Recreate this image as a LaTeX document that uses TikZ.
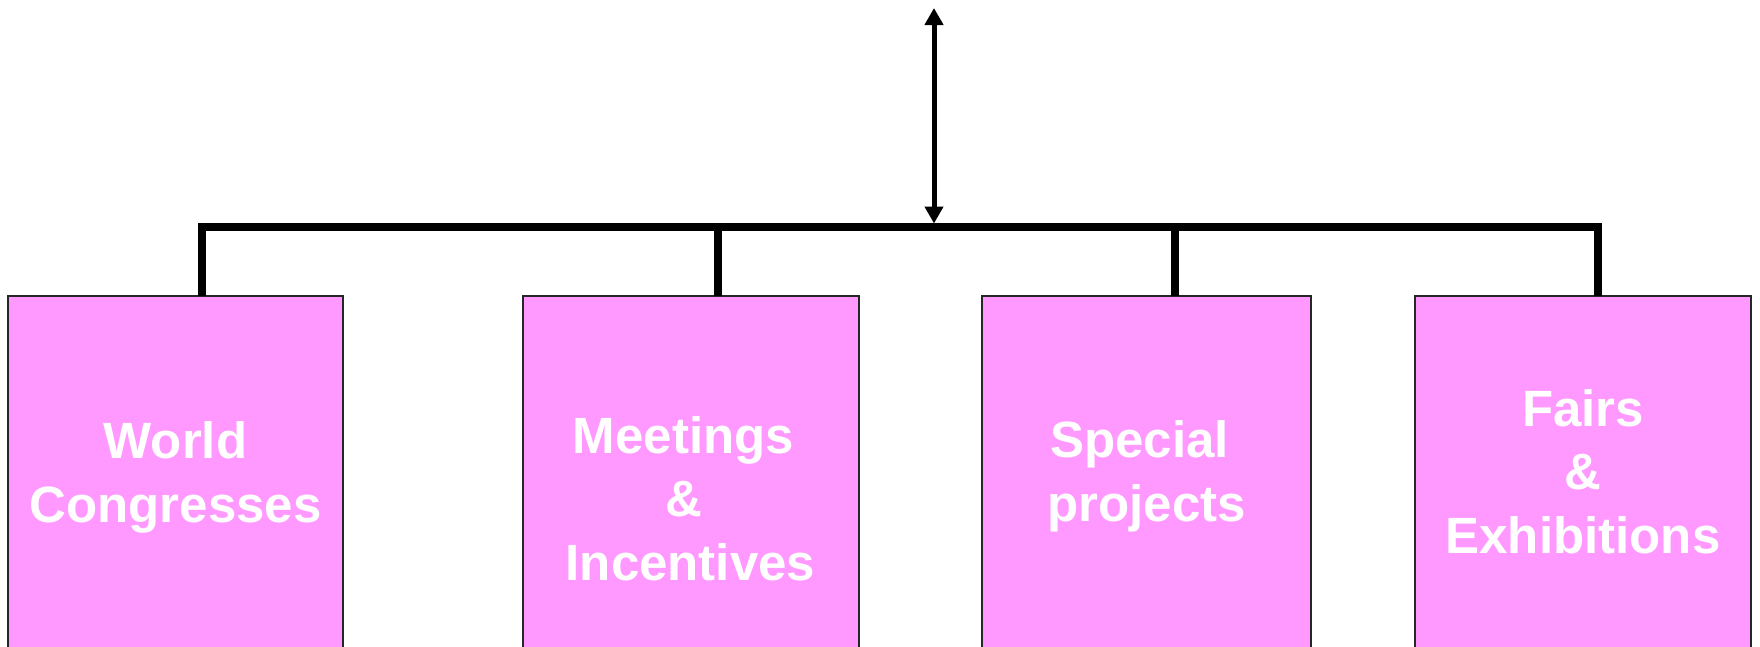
\documentclass[tikz,border=0pt]{standalone}
\usepackage{fontspec}
\setmainfont{Liberation Sans}
\usetikzlibrary{arrows.meta}
\definecolor{boxpink}{HTML}{FF99FF}
\tikzset{
  unit/.style={draw=black!85,line width=2pt,fill=boxpink,minimum width=#1,minimum height=420pt,anchor=north,inner sep=0pt,outer sep=0pt},
  unittext/.style={text=white,font=\fontsize{51}{63.5}\selectfont\bfseries,align=center,anchor=base,inner sep=0pt},
  link/.style={line width=7.5pt,line join=miter},
  >={Triangle[length=17pt,width=18pt]}
}
\begin{document}
\begin{tikzpicture}[x=1pt,y=-1pt]
        \useasboundingbox(0,0)rectangle(1760,646);
        \node[unit=335pt](wc)at(175.5,296){};
        \node[unit=336pt](mi)at(690.5,296){};
        \node[unit=329pt](sp)at(1146.5,296){};
        \node[unit=336pt](fe)at(1583,296){};
        \node[unittext](wct)at(175.5,522){World\\Congresses};
        \node[unittext](mit)at(690.5,580){Meetings\kern14pt\\\&\kern14pt\\Incentives};
        \node[unittext](spt)at(1146.5,521){Special\kern14pt\\projects};
        \node[unittext](fet)at(1583,553){Fairs\\\&\\Exhibitions};
        \coordinate(b1)at(202,227);
        \coordinate(b2)at(718,227);
        \coordinate(b3)at(1175,227);
        \coordinate(b4)at(1598,227);
        \coordinate(top)at(934,8);
        \coordinate(hub)at(934,223.5);
        \draw[link](wc.north-|b1)--(b1)--(b4)--(fe.north-|b4);
        \draw[link](b2)--(mi.north-|b2);
        \draw[link](b3)--(sp.north-|b3);
        \draw[line width=5pt,<->](top)--(hub);
    \end{tikzpicture}
\end{document}
